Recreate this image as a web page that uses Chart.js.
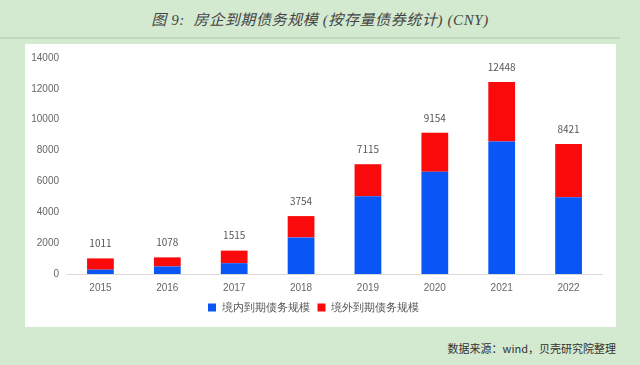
<!DOCTYPE html>
<html lang="zh">
<head>
    <meta charset="UTF-8">
    <title>房企到期债务规模</title>
    <script src="https://cdn.jsdelivr.net/npm/chart.js"></script>
    <style>
        html, body { margin: 0; padding: 0; }
        body { width: 640px; height: 365px; background: #d3e9d0; position: relative; overflow: hidden;
               font-family: "Noto Sans CJK SC", "Noto Sans", sans-serif; }
        #title { position: absolute; left: 0; top: 8px; width: 640px; text-align: center;
                 font-family: "Liberation Serif", "Noto Sans CJK SC", serif; font-style: italic;
                 font-size: 15px; letter-spacing: 0.6px; color: #444; white-space: pre; }
        #rule { position: absolute; left: 0; top: 37px; width: 620px; height: 2px; background: #c4d6c3; }
        #panel { position: absolute; left: 25px; top: 44px; width: 591px; height: 283px; background: #fff; }
        #source { position: absolute; right: 24px; top: 340px; font-size: 11px; color: #333; }
    </style>
</head>
<body>
    <div id="title">图 9:  房企到期债务规模 (按存量债券统计) (CNY)</div>
    <div id="rule"></div>
    <div id="panel"><canvas id="bondChart" width="591" height="283"></canvas></div>
    <div id="source">数据来源：wind，贝壳研究院整理</div>

    <script>
        const years = ['2015', '2016', '2017', '2018', '2019', '2020', '2021', '2022'];
        const totals = [1011, 1078, 1515, 3754, 7115, 9154, 12448, 8421];
        const domestic = [280, 490, 700, 2370, 5040, 6630, 8580, 4970];
        const overseas = [731, 588, 815, 1384, 2075, 2524, 3868, 3451];
        const yTicks = [0, 2000, 4000, 6000, 8000, 10000, 12000, 14000];

        // total value written above each stacked bar
        const totalLabels = {
            id: 'totalLabels',
            afterDatasetsDraw(chart) {
                const ctx = chart.ctx;
                const meta = chart.getDatasetMeta(1);
                ctx.save();
                ctx.font = '10px "Noto Sans CJK SC", sans-serif';
                ctx.fillStyle = '#555';
                ctx.textAlign = 'center';
                ctx.textBaseline = 'bottom';
                meta.data.forEach((bar, i) => {
                    ctx.fillText(totals[i], bar.x, bar.y - 10);
                });
                ctx.restore();
            }
        };

        new Chart(document.getElementById('bondChart'), {
            type: 'bar',
            data: {
                labels: years,
                datasets: [{
                    label: '境内到期债务规模',
                    data: domestic,
                    backgroundColor: '#0a55f5'
                }, {
                    label: '境外到期债务规模',
                    data: overseas,
                    backgroundColor: '#fa0a0a'
                }]
            },
            options: {
                responsive: false,
                animation: false,
                layout: { padding: { left: 0, right: 14, top: 14, bottom: 4 } },
                datasets: { bar: { barPercentage: 0.4, categoryPercentage: 1 } },
                scales: {
                    x: {
                        stacked: true,
                        grid: { display: false },
                        border: { color: '#d9d9d9' },
                        ticks: { color: '#666', font: { size: 10 }, padding: 0 }
                    },
                    y: {
                        stacked: true,
                        min: 0,
                        max: 14000,
                        afterBuildTicks: axis => { axis.ticks = yTicks.map(v => ({ value: v })); },
                        afterFit: axis => { axis.width = 42; },
                        grid: { display: false },
                        border: { display: false },
                        ticks: { color: '#666', font: { size: 10 }, padding: 0, callback: v => String(v) }
                    }
                },
                plugins: {
                    legend: {
                        position: 'bottom',
                        labels: { boxWidth: 8, boxHeight: 8, color: '#555', font: { size: 11 }, padding: 8 }
                    },
                    tooltip: { enabled: false }
                }
            },
            plugins: [totalLabels]
        });
    </script>
</body>
</html>
